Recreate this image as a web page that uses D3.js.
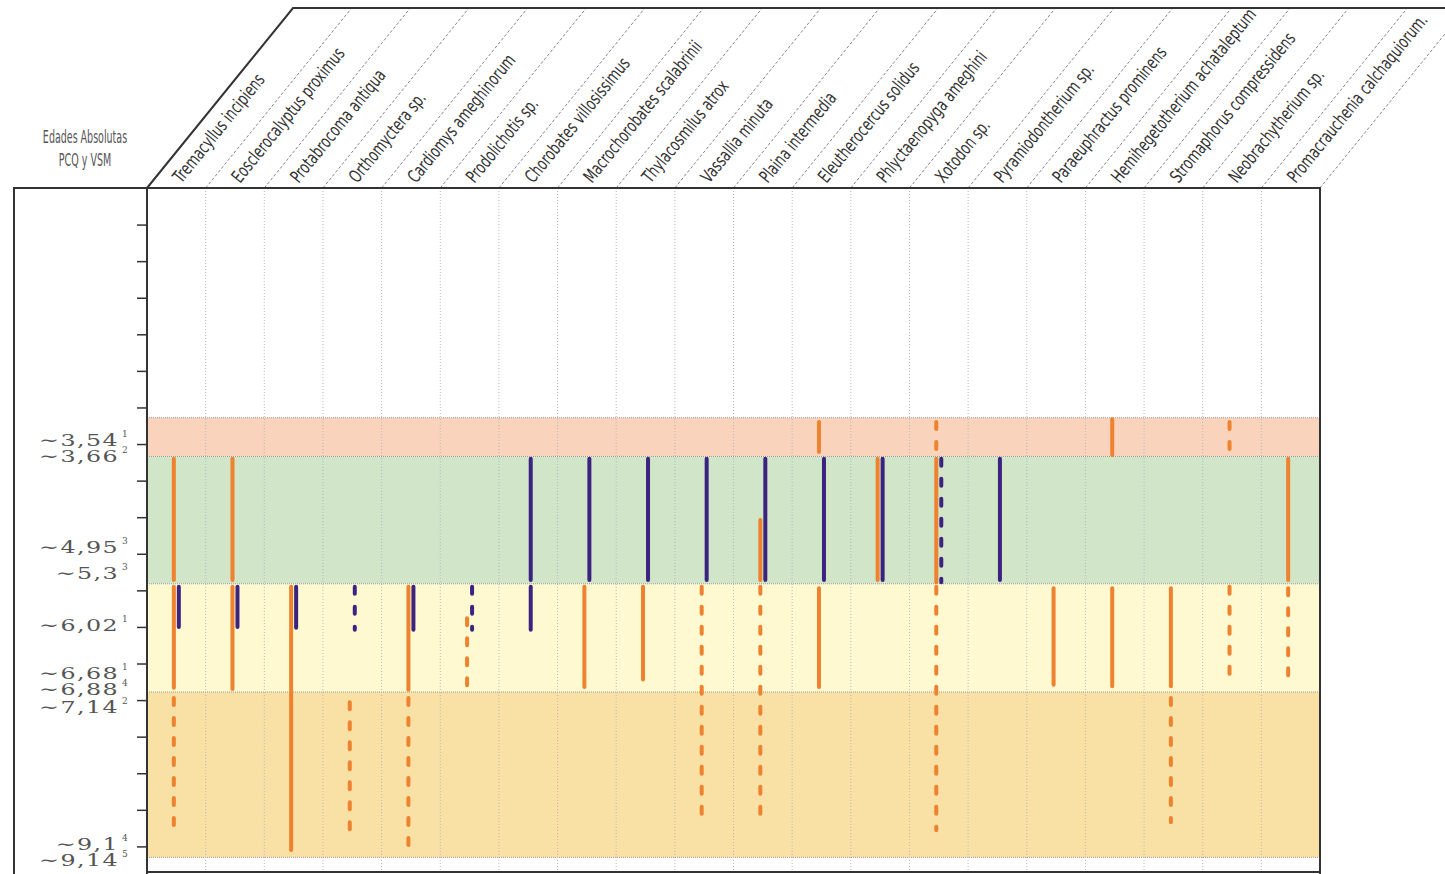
<!DOCTYPE html>
<html lang="es">
<head>
<meta charset="UTF-8">
<title>Edades absolutas PCQ y VSM</title>
<style>
body { margin: 0; background: #fff; }
.grid line { stroke: #b8b8b8; stroke-width: 1; stroke-dasharray: 1,2; }
.diag line { stroke: #666; stroke-width: 0.8; stroke-dasharray: 3,2; }
.frame { stroke: #333; stroke-width: 2; fill: none; }
.taxon { font-family: "DejaVu Sans", sans-serif; font-size: 18px; fill: #333; }
.age { font-family: "DejaVu Serif", serif; font-size: 17px; fill: #555; letter-spacing: 1px; }
.sup { font-family: "DejaVu Serif", serif; font-size: 9px; fill: #555; }
.head { font-family: "DejaVu Sans", sans-serif; font-size: 17px; fill: #555; text-anchor: middle; }
</style>
</head>
<body>
<svg width="1445" height="874"></svg>
<script src="https://d3js.org/d3.v7.min.js"></script>
<script>

var species = ["Tremacyllus incipiens", "Eosclerocalyptus proximus", "Protabrocoma antiqua",
  "Orthomyctera sp.", "Cardiomys ameghinorum", "Prodolichotis sp.", "Chorobates villosissimus",
  "Macrochorobates scalabrinii", "Thylacosmilus atrox", "Vassallia minuta", "Plaina intermedia",
  "Eleutherocercus solidus", "Phlyctaenopyga ameghini", "Xotodon sp.", "Pyramiodontherium sp.",
  "Paraeuphractus prominens", "Hemihegetotherium achataleptum", "Stromaphorus compressidens",
  "Neobrachytherium sp.", "Promacrauchenia calchaquiorum."];

// limites de las bandas (Ma)
var bandEdges = [3.14, 3.67, 5.41, 6.89, 9.15];

// edades absolutas del eje
var ageValues = [3.54, 3.66, 4.95, 5.3, 6.02, 6.68, 6.88, 7.14, 9.1, 9.14];
var ageLabels = ["3,54", "3,66", "4,95", "5,3", "6,02", "6,68", "6,88", "7,14", "9,1", "9,14"];
var ageRefs = ["1", "2", "3", "3", "1", "1", "4", "2", "4", "5"];

// biocrones: [taxon, desde, hasta, grupo, discontinuo]
var ranges = [
  [0, 3.70, 5.36, "O", 0], [0, 5.45, 6.83, "O", 0], [0, 5.45, 6.00, "P", 0], [0, 6.97, 8.78, "O", 1],
  [1, 3.70, 5.36, "O", 0], [1, 5.45, 6.85, "O", 0], [1, 5.45, 6.00, "P", 0],
  [2, 5.45, 9.05, "O", 0], [2, 5.45, 6.01, "P", 0],
  [3, 5.45, 6.04, "P", 1], [3, 7.03, 8.83, "O", 1],
  [4, 5.45, 6.86, "O", 0], [4, 5.45, 6.04, "P", 0], [4, 6.97, 8.99, "O", 1],
  [5, 5.45, 6.04, "P", 1], [5, 5.88, 6.86, "O", 1],
  [6, 3.70, 5.36, "P", 0], [6, 5.45, 6.04, "P", 0],
  [7, 3.70, 5.36, "P", 0], [7, 5.45, 6.82, "O", 0],
  [8, 3.70, 5.36, "P", 0], [8, 5.45, 6.72, "O", 0],
  [9, 3.70, 5.36, "P", 0], [9, 5.45, 8.64, "O", 1],
  [10, 3.70, 5.36, "P", 0], [10, 4.54, 5.36, "O", 0], [10, 5.45, 8.64, "O", 1],
  [11, 3.20, 3.61, "O", 0], [11, 3.70, 5.36, "P", 0], [11, 5.47, 6.82, "O", 0],
  [12, 3.70, 5.36, "O", 0], [12, 3.70, 5.36, "P", 0],
  [13, 3.20, 3.61, "O", 1], [13, 3.70, 5.39, "O", 0], [13, 3.70, 5.39, "P", 1], [13, 5.45, 8.78, "O", 1],
  [14, 3.70, 5.36, "P", 0],
  [15, 5.47, 6.79, "O", 0],
  [16, 3.16, 3.65, "O", 0], [16, 5.47, 6.81, "O", 0],
  [17, 5.47, 6.81, "O", 0], [17, 6.97, 8.67, "O", 1],
  [18, 3.20, 3.61, "O", 1], [18, 5.45, 6.70, "O", 1],
  [19, 3.70, 5.36, "O", 0], [19, 5.47, 6.71, "O", 1]
];

var svg = d3.select("svg"),
    plotLeft = 147, plotRight = 1320, plotTop = 188, plotBottom = 872,
    boxLeft = 14, headTop = 8,
    skew = 146;

var x = d3.scaleBand().domain(species).range([plotLeft, plotRight]);
var xs = d3.scaleBand().domain(["O", "P"]).range([-5, 5]);
var y = d3.scaleLinear().domain([0, 9.35]).range([plotTop, plotBottom]);
var color = d3.scaleOrdinal().domain(["O", "P"]).range(["#ee822e", "#3b247f"]);
var bandColor = ["#f9d3bc", "#d1e5c9", "#fff9d1", "#f9e1a6"];

// bandas
var bands = d3.pairs(bandEdges);
svg.append("g").selectAll("rect")
  .data(bands)
  .enter().append("rect")
    .attr("x", plotLeft)
    .attr("y", function(d) { return y(d[0]); })
    .attr("width", plotRight - plotLeft)
    .attr("height", function(d) { return y(d[1]) - y(d[0]); })
    .attr("fill", function(d, i) { return bandColor[i]; });

svg.append("g").selectAll("line")
  .data(bandEdges)
  .enter().append("line")
    .attr("x1", plotLeft).attr("x2", plotRight)
    .attr("y1", function(d) { return y(d); })
    .attr("y2", function(d) { return y(d); })
    .attr("stroke", "#999")
    .attr("stroke-dasharray", "1,1");

// grilla vertical
svg.append("g").attr("class", "grid").selectAll("line")
  .data(species.slice(1))
  .enter().append("line")
    .attr("x1", function(d) { return x(d); })
    .attr("x2", function(d) { return x(d); })
    .attr("y1", plotTop).attr("y2", plotBottom);

// lineas diagonales del encabezado
svg.append("g").attr("class", "diag").selectAll("line")
  .data(species)
  .enter().append("line")
    .attr("x1", function(d) { return x(d) + x.bandwidth(); })
    .attr("x2", function(d) { return x(d) + x.bandwidth() + skew; })
    .attr("y1", plotTop).attr("y2", headTop);

svg.append("path")
    .attr("class", "frame")
    .attr("stroke-width", 1.5)
    .attr("d", "M" + plotLeft + "," + plotTop + "L" + (plotLeft + skew) + "," + headTop + "L1445," + headTop);

var angle = -Math.atan((plotTop - headTop) / skew) * 180 / Math.PI;

svg.append("g").selectAll("text")
  .data(species)
  .enter().append("text")
    .attr("class", "taxon")
    .attr("transform", function(d) {
      return "translate(" + (x(d) + x.bandwidth() / 2 + 5) + "," + (plotTop - 4) + ") rotate(" + angle + ") scale(0.7,1)";
    })
    .text(function(d) { return d; });

// biocrones
svg.append("g").selectAll("line")
  .data(ranges)
  .enter().append("line")
    .attr("x1", function(d) { return x(species[d[0]]) + x.bandwidth() / 2 + xs(d[3]) + xs.bandwidth() / 2; })
    .attr("x2", function(d) { return x(species[d[0]]) + x.bandwidth() / 2 + xs(d[3]) + xs.bandwidth() / 2; })
    .attr("y1", function(d) { return y(d[1]); })
    .attr("y2", function(d) { return y(d[2]); })
    .attr("stroke", function(d) { return color(d[3]); })
    .attr("stroke-width", 4)
    .attr("stroke-linecap", "round")
    .attr("stroke-dasharray", function(d) { return d[4] ? "7,13" : null; });

// eje de edades
svg.append("g")
    .attr("transform", "translate(" + plotLeft + ",0)")
    .call(d3.axisLeft(y).tickValues(d3.range(0.5, 9.01, 0.5)).tickSize(10).tickFormat(""))
    .call(function(g) { g.select(".domain").remove(); })
    .selectAll("line").attr("stroke", "#333").attr("stroke-width", 1.5);

// cajas
svg.append("path")
    .attr("class", "frame")
    .attr("d", "M" + boxLeft + ",874V" + plotTop + "H" + plotRight + "V874");
svg.append("line")
    .attr("class", "frame")
    .attr("x1", plotLeft).attr("x2", plotLeft).attr("y1", plotTop).attr("y2", 874);
svg.append("line")
    .attr("class", "frame")
    .attr("x1", plotLeft).attr("x2", plotRight).attr("y1", plotBottom).attr("y2", plotBottom);

// etiquetas de edad (separadas si se superponen)
var gap = 16;
var pos = ageValues.map(function(v) { return y(v) + 3; });
for (var k = 0; k < 6; k++) {
  for (var i = 1; i < pos.length; i++) {
    if (pos[i] - pos[i - 1] < gap) {
      var m = (pos[i] + pos[i - 1]) / 2;
      pos[i - 1] = m - gap / 2;
      pos[i] = m + gap / 2;
    }
  }
}

var lab = svg.append("g").selectAll("g")
  .data(ageLabels)
  .enter().append("g")
    .attr("transform", function(d, i) { return "translate(119," + pos[i] + ")"; });

lab.append("text")
    .attr("class", "age")
    .attr("text-anchor", "end")
    .attr("transform", "scale(1.4,1)")
    .text(function(d) { return "\u223c" + d; });

lab.append("text")
    .attr("class", "sup")
    .attr("x", 3)
    .attr("y", -9)
    .text(function(d, i) { return ageRefs[i]; });

svg.append("text").attr("class", "head")
    .attr("transform", "translate(85,143) scale(0.56,1)").text("Edades Absolutas");
svg.append("text").attr("class", "head")
    .attr("transform", "translate(85,166) scale(0.56,1)").text("PCQ y VSM");

</script>
</body>
</html>
